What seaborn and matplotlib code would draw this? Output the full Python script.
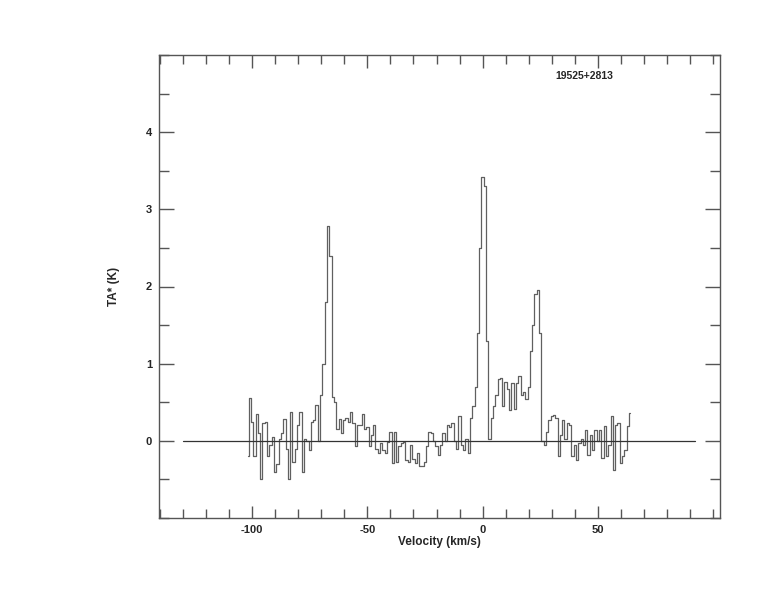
import numpy as np
import pandas as pd
import matplotlib
matplotlib.use("Agg")
import matplotlib.pyplot as plt
import seaborn as sns
from matplotlib.ticker import MultipleLocator, FixedLocator

# ---- data ----
v_start = -102
v_step = 1.0
ta = [
    -0.20, 0.55, 0.25, -0.20, 0.35, 0.10, -0.50, 0.23, 0.25, -0.20,   # -102..-93
    -0.05, 0.05, -0.40, -0.30, 0.03, 0.10, 0.28, -0.10, -0.50, 0.38,   # -92..-83
    -0.27, -0.10, 0.20, 0.38, -0.40, 0.03, 0.00, -0.12, 0.25, 0.27,    # -82..-73
    0.47, 0.00, 0.60, 1.00, 1.80, 2.78, 2.40, 0.57, 0.50, 0.15,        # -72..-63
    0.28, 0.10, 0.27, 0.30, 0.25, 0.37, 0.23, -0.07, 0.20, 0.20,       # -62..-53
    0.35, 0.15, 0.18, -0.07, 0.08, 0.20, -0.10, -0.16, -0.03, -0.12,   # -52..-43
    -0.16, -0.01, 0.12, -0.29, 0.12, -0.27, -0.07, -0.03, -0.01, -0.25,  # -42..-33
    -0.27, -0.05, -0.24, -0.29, -0.16, -0.33, -0.33, -0.27, -0.07, 0.12,  # -32..-23
    0.10, 0.00, -0.07, -0.18, -0.05, 0.10, 0.00, 0.21, 0.18, 0.23,     # -22..-13
    0.00, -0.10, 0.32, -0.05, -0.12, 0.02, -0.16, 0.30, 0.45, 0.70,    # -12..-3
    1.40, 2.50, 3.42, 3.30, 1.30, 0.02, 0.30, 0.45, 0.60, 0.80,        # -2..7
    0.82, 0.45, 0.76, 0.67, 0.40, 0.75, 0.41, 0.75, 0.84, 0.60,        # 8..17
    0.63, 0.54, 0.70, 1.17, 1.50, 1.90, 1.95, 1.40, 0.00, -0.05,       # 18..27
    0.12, 0.27, 0.32, 0.33, 0.30, -0.20, 0.08, 0.27, 0.03, 0.23,       # 28..37
    0.20, -0.20, -0.05, -0.25, -0.03, 0.03, -0.05, 0.14, -0.18, 0.08,  # 38..47
    -0.12, 0.14, 0.00, 0.14, -0.22, 0.19, -0.20, -0.05, 0.32, -0.38,   # 48..57
    0.20, 0.23, -0.29, -0.20, -0.12, 0.19, 0.36,                       # 58..64
]
velocity = v_start + v_step * np.arange(len(ta))
baseline_v = [-130, 92]
baseline_t = [0, 0]
x_ticks = [-100, -50, 0, 50]
y_ticks = [0, 1, 2, 3, 4]
source_name = "19525+2813"

df = pd.DataFrame({"Velocity": velocity, "TA": ta})

sns.set_style("ticks")
plt.rcParams["font.family"] = ["Liberation Sans", "DejaVu Sans"]
plt.rcParams["axes.unicode_minus"] = False

fig = plt.figure(figsize=(7.74, 6.12), dpi=100)
ax = fig.add_axes([159 / 774, 94 / 612, 561 / 774, 463 / 612])

sns.lineplot(data=df, x="Velocity", y="TA", ax=ax, estimator=None, sort=False,
             drawstyle="steps-mid", color="#606060", linewidth=0.9)
sns.lineplot(x=baseline_v, y=baseline_t, ax=ax, estimator=None, sort=False,
             color="#333333", linewidth=0.9)

ax.set_xlim(-140.4, 103)
ax.set_ylim(-1, 5)

ax.xaxis.set_major_locator(FixedLocator(x_ticks))
ax.xaxis.set_minor_locator(MultipleLocator(10))
ax.yaxis.set_major_locator(FixedLocator(y_ticks))
ax.yaxis.set_minor_locator(MultipleLocator(0.5))

ax.tick_params(which="both", direction="in", top=True, right=True,
               color="#555555", width=1.0)
ax.tick_params(which="major", axis="x", length=9)
ax.tick_params(which="minor", axis="x", length=6.5)
ax.tick_params(which="major", axis="y", length=11)
ax.tick_params(which="minor", axis="y", length=7)
ax.tick_params(which="major", labelsize=8, pad=5)

for lab in ax.get_xticklabels() + ax.get_yticklabels():
    lab.set_fontweight("bold")

for s in ax.spines.values():
    s.set_color("#555555")
    s.set_linewidth(1.0)

ax.set_xlabel("Velocity (km/s)", fontsize=8.5, fontweight="bold", labelpad=1)
ax.set_ylabel("TA* (K)", fontsize=8.5, fontweight="bold")
ax.yaxis.set_label_coords(-0.07, 0.5)

ax.text(0.759, 0.955, source_name, transform=ax.transAxes, ha="center",
        va="center", fontsize=7.5, fontweight="bold")

fig.savefig("out.png", dpi=100)
